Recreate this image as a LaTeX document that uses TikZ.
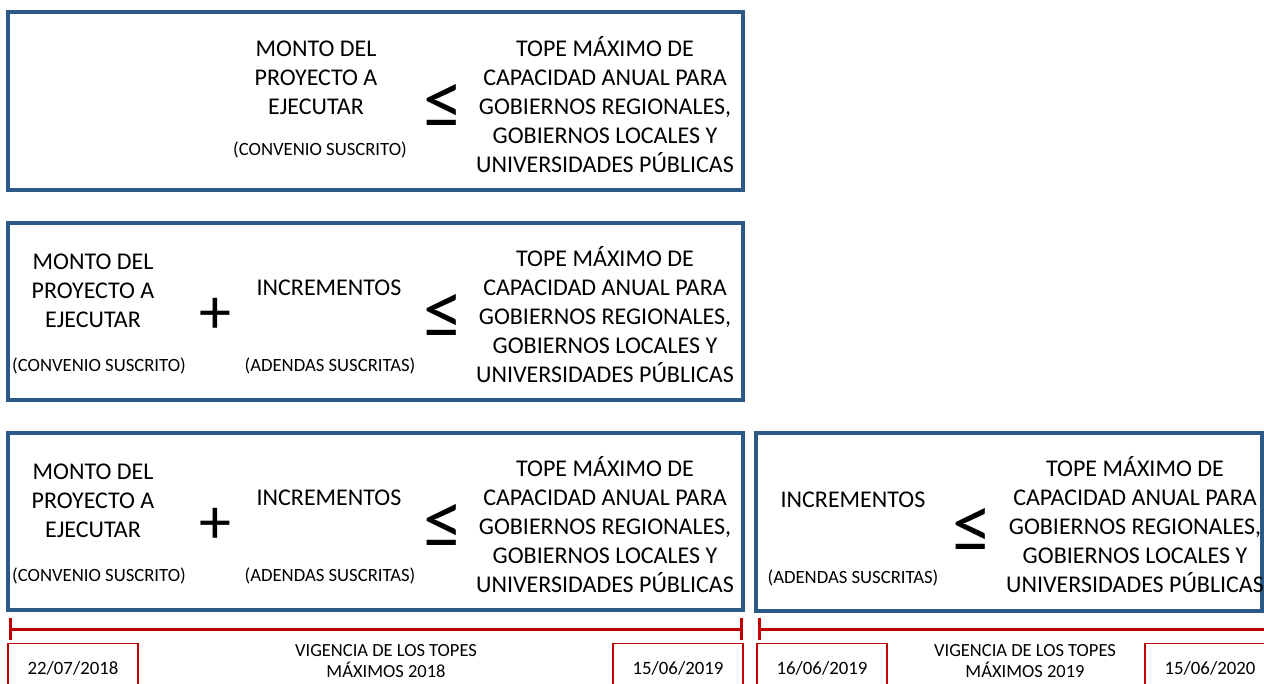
\documentclass[tikz,border=0pt]{standalone}
\usepackage{fontspec}
\setmainfont{Carlito}
\usetikzlibrary{arrows.meta}
\definecolor{frameblue}{RGB}{44,90,136}
\definecolor{linered}{RGB}{192,0,0}

\begin{document}
\begin{tikzpicture}[x=1pt,y=-1pt,
  every node/.append style={inner sep=0pt},
  panel/.style={draw=frameblue,line width=3.5pt},
  timeline/.style={draw=linered,line width=3pt}]
  \tikzstyle{word} = [font=\fontsize{24}{29}\selectfont,align=center,color=black]
  \tikzstyle{note} = [font=\fontsize{18.7}{22}\selectfont,color=black]
  \tikzstyle{sign} = [font=\fontsize{80}{80}\selectfont]
  \tikzstyle{plus} = [font=\fontsize{64}{64}\selectfont]
  \tikzstyle{period} = [font=\fontsize{18.5}{21.5}\selectfont,align=center]
  \tikzstyle{date} = [draw=linered,line width=1.3pt,minimum width=130pt,minimum height=50pt,anchor=north,font=\fontsize{18.8}{22}\selectfont]
  \useasboundingbox (0,0) rectangle (1264,683);
  \node (box1) [panel,minimum width=735pt,minimum height=178pt] at (375.5,101) {};
  \node (box2) [panel,minimum width=735pt,minimum height=177pt] at (375.5,311.5) {};
  \node (box3) [panel,minimum width=735pt,minimum height=177pt] at (375.5,521.5) {};
  \node (box4) [panel,minimum width=506pt,minimum height=178pt] at (1009,522) {};
  \node (1_monto) [word] at (316,78) {MONTO DEL\\PROYECTO A\\EJECUTAR};
  \node (1_conv) [note] at (320,150) {(CONVENIO SUSCRITO)};
  \node (1_leq) [sign] at (443,106) {≤};
  \node (1_tope) [word] at (605,104.5) {TOPE MÁXIMO DE\\CAPACIDAD ANUAL PARA\\GOBIERNOS REGIONALES,\\GOBIERNOS LOCALES Y\\UNIVERSIDADES PÚBLICAS};
  \node (2_monto) [word] at (93,291) {MONTO DEL\\PROYECTO A\\EJECUTAR};
  \node (2_conv) [note] at (99,366) {(CONVENIO SUSCRITO)};
  \node (2_plus) [plus] at (215,316) {+};
  \node (2_incr) [word] at (329,288) {INCREMENTOS};
  \node (2_aden) [note] at (330,366) {(ADENDAS SUSCRITAS)};
  \node (2_leq) [sign] at (443,316) {≤};
  \node (2_tope) [word] at (605,314.5) {TOPE MÁXIMO DE\\CAPACIDAD ANUAL PARA\\GOBIERNOS REGIONALES,\\GOBIERNOS LOCALES Y\\UNIVERSIDADES PÚBLICAS};
  \node (3_monto) [word] at (93,501) {MONTO DEL\\PROYECTO A\\EJECUTAR};
  \node (3_conv) [note] at (99,576) {(CONVENIO SUSCRITO)};
  \node (3_plus) [plus] at (215,526) {+};
  \node (3_incr) [word] at (329,498) {INCREMENTOS};
  \node (3_aden) [note] at (330,576) {(ADENDAS SUSCRITAS)};
  \node (3_leq) [sign] at (443,526) {≤};
  \node (3_tope) [word] at (605,524.5) {TOPE MÁXIMO DE\\CAPACIDAD ANUAL PARA\\GOBIERNOS REGIONALES,\\GOBIERNOS LOCALES Y\\UNIVERSIDADES PÚBLICAS};
  \node (4_incr) [word] at (853,500) {INCREMENTOS};
  \node (4_aden) [note] at (853,578) {(ADENDAS SUSCRITAS)};
  \node (4_leq) [sign] at (972,530) {≤};
  \node (4_tope) [word] at (1135,524.5) {TOPE MÁXIMO DE\\CAPACIDAD ANUAL PARA\\GOBIERNOS REGIONALES,\\GOBIERNOS LOCALES Y\\UNIVERSIDADES PÚBLICAS};
  \coordinate (t18_start) at (9,629);
  \coordinate (t18_end) at (743,629);
  \coordinate (t19_start) at (758,629);
  \coordinate (t19_end) at (1266,629);
  \draw [timeline,{Bar[width=22pt]}-{Bar[width=22pt]}] (t18_start) -- (t18_end);
  \draw [timeline,{Bar[width=22pt]}-] (t19_start) -- (t19_end);
  \node (d18_from) [date] at (73,643) {22/07/2018};
  \node (d18_to) [date] at (678,643) {15/06/2019};
  \node (d19_from) [date] at (822,643) {16/06/2019};
  \node (d19_to) [date] at (1210,643) {15/06/2020};
  \node (v18) [period] at (386,661) {VIGENCIA DE LOS TOPES\\MÁXIMOS 2018};
  \node (v19) [period] at (1025,661) {VIGENCIA DE LOS TOPES\\MÁXIMOS 2019};
\end{tikzpicture}
\end{document}
